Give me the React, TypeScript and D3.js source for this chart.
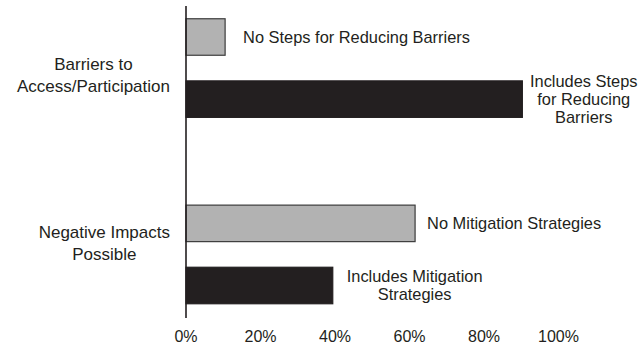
import React, { useEffect, useRef } from "react";
import * as d3 from "d3";

const categoryLines: string[][] = [
  ["Barriers to", "Access/Participation"],
  ["Negative Impacts", "Possible"],
];
const barCategory = [0, 0, 1, 1];
const barKind = ["no", "includes", "no", "includes"];
const barValues = [10.5, 90.3, 61.5, 39.4];
const barLabels: string[][] = [
  ["No Steps for Reducing Barriers"],
  ["Includes Steps", "for Reducing", "Barriers"],
  ["No Mitigation Strategies"],
  ["Includes Mitigation", "Strategies"],
];
const tickValues = [0, 20, 40, 60, 80, 100];
const slots = ["c0-0", "c0-1", "gap", "c1-0", "c1-1"];

const W = 639;
const H = 347;
const FONT = "'Liberation Sans', Arial, Helvetica, sans-serif";
const INK = "#231f20";
const catOffsets = [7, -11.5];
const labelGaps = [18, 10, 12, 14];

export default function App() {
  const ref = useRef<SVGSVGElement>(null);
  useEffect(() => {
    const svg = d3.select(ref.current);
    svg.selectAll("*").remove();
    const x = d3.scaleLinear().domain([0, 100]).range([186, 558.5]);
    const y = d3.scalePoint<string>().domain(slots).range([37, 285.5]);
    const barH = 36.5;
    const slotOf = (i: number) => `c${barCategory[i]}-${i % 2}`;

    // bars
    svg
      .append("g")
      .selectAll("rect")
      .data(barValues)
      .join("rect")
      .attr("x", x(0))
      .attr("y", (_, i) => (y(slotOf(i)) as number) - barH / 2)
      .attr("width", (d) => x(d) - x(0))
      .attr("height", barH)
      .attr("fill", (_, i) => (barKind[i] === "no" ? "#b2b2b2" : INK))
      .attr("stroke", (_, i) => (barKind[i] === "no" ? "#3c3c3c" : INK))
      .attr("stroke-width", 1.2);

    // axis line
    svg
      .append("line")
      .attr("x1", x(0))
      .attr("x2", x(0))
      .attr("y1", 6)
      .attr("y2", 318)
      .attr("stroke", INK)
      .attr("stroke-width", 1.6);

    // tick labels
    svg
      .append("g")
      .selectAll("text")
      .data(tickValues)
      .join("text")
      .attr("x", (d) => x(d))
      .attr("y", 342)
      .attr("text-anchor", "middle")
      .attr("font-family", FONT)
      .attr("font-size", 16)
      .attr("fill", INK)
      .text((d) => `${d}%`);

    // bar labels
    const lineH = 18;
    barLabels.forEach((lines, i) => {
      const cy = y(slotOf(i)) as number;
      const end = x(barValues[i]) + labelGaps[i];
      const g = svg.append("g");
      const texts = g
        .selectAll("text")
        .data(lines)
        .join("text")
        .attr("y", (_, j) => cy + (j - (lines.length - 1) / 2) * lineH + 5.8)
        .attr("font-family", FONT)
        .attr("font-size", 16.4)
        .attr("fill", INK)
        .text((d) => d);
      if (lines.length === 1) {
        texts.attr("x", end).attr("text-anchor", "start");
      } else {
        let maxW = 0;
        texts.each(function () {
          maxW = Math.max(maxW, (this as SVGTextElement).getComputedTextLength());
        });
        const cx = Math.min(end + maxW / 2, W - 1.5 - maxW / 2);
        texts.attr("x", cx).attr("text-anchor", "middle");
      }
    });

    // category labels
    const catLineH = 21.5;
    categoryLines.forEach((lines, c) => {
      const c0 = y(`c${c}-0`) as number;
      const c1 = y(`c${c}-1`) as number;
      const cy = (c0 + c1) / 2 + catOffsets[c];
      const g = svg.append("g");
      const texts = g
        .selectAll("text")
        .data(lines)
        .join("text")
        .attr("y", (_, j) => cy + (j - (lines.length - 1) / 2) * catLineH + 6)
        .attr("font-family", FONT)
        .attr("font-size", 17)
        .attr("fill", INK)
        .attr("text-anchor", "middle")
        .text((d) => d);
      let maxW = 0;
      texts.each(function () {
        maxW = Math.max(maxW, (this as SVGTextElement).getComputedTextLength());
      });
      texts.attr("x", 170 - maxW / 2);
    });
  }, []);

  return (
    <svg
      ref={ref}
      width={W}
      height={H}
      style={{ position: "absolute", left: 0, top: 0, background: "#fff" }}
    />
  );
}
